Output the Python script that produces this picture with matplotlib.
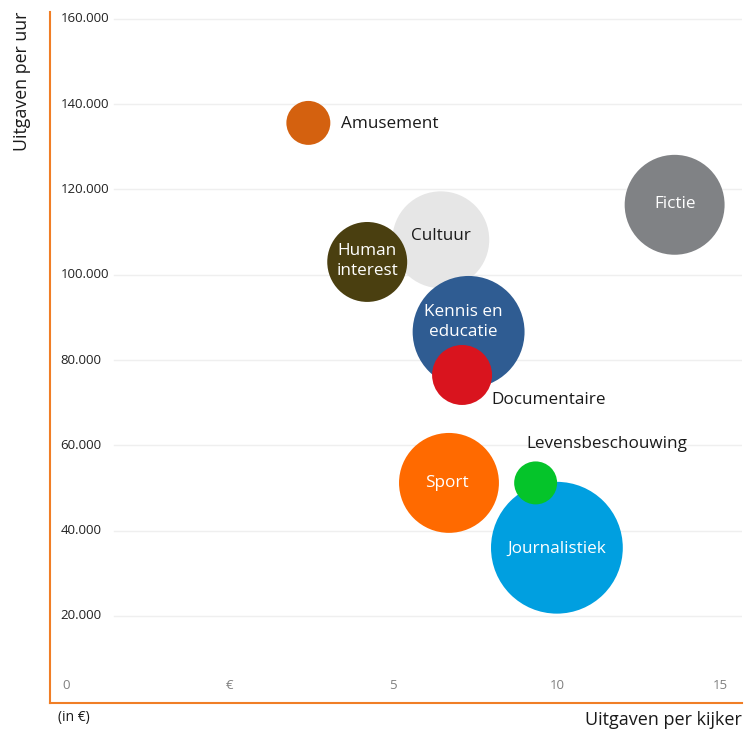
import matplotlib.pyplot as plt
import matplotlib.transforms as mtransforms

plt.rcParams['font.family'] = ['Open Sans', 'DejaVu Sans']

# genres, drawn in this order (later ones on top)
genres = ['Cultuur', 'Human\ninterest', 'Kennis en\neducatie', 'Documentaire',
          'Journalistiek', 'Levensbeschouwing', 'Sport', 'Amusement', 'Fictie']
per_kijker = [6.45, 4.2, 7.3, 7.1, 10.0, 9.35, 6.7, 2.4, 13.6]
per_uur = [108200, 103000, 86600, 76500, 36000, 51200, 51200, 135600, 116400]
omvang = [2350, 1600, 3136, 900, 4350, 462, 2500, 484, 2500]
kleuren = ['#E6E6E6', '#4A3F10', '#2F5C92', '#D9141E', '#009FE0',
           '#05C42A', '#FF6A00', '#D4610F', '#808285']

x_ticks = [-5, 0, 5, 10, 15]
x_labels = ['0', '€', '5', '10', '15']
y_ticks = [20000, 40000, 60000, 80000, 100000, 120000, 140000, 160000]

fig = plt.figure(figsize=(7.46, 7.30), dpi=100)
ax = fig.add_axes([50 / 746, 27 / 730, 692 / 746, 691 / 730])
ax.set_xlim(-5.5, 15.66)
ax.set_ylim(-400, 161600)

for y in y_ticks:
    ax.axhline(y, xmin=64 / 692, xmax=1, color='#EFEFEF', lw=1, zorder=0)
    ax.text(0.015, y, f'{y:,}'.replace(',', '.'), transform=ax.get_yaxis_transform(),
            ha='left', va='center', fontsize=9.5, color='#222222')

trans = ax.get_xaxis_transform()
for x, lab in zip(x_ticks, x_labels):
    ax.text(x, 0.025, lab, transform=trans, ha='center', va='center',
            fontsize=9.5, color='#808080')

sizes = [2.07 * v for v in omvang]
for i in range(len(genres)):
    ax.scatter(per_kijker[i], per_uur[i], s=sizes[i], color=kleuren[i],
               edgecolors='none', zorder=2 + i)

# labels: (dx, dy) in pixels, alignment, colour
label_style = {
    'Cultuur': (0, 4, 'center', '#1a1a1a'),
    'Human\ninterest': (0, 1, 'center', 'white'),
    'Kennis en\neducatie': (-5, 10, 'center', 'white'),
    'Documentaire': (29, -25, 'left', '#1a1a1a'),
    'Journalistiek': (0, -1, 'center', 'white'),
    'Levensbeschouwing': (-9, 39, 'left', '#1a1a1a'),
    'Sport': (-2, 0, 'center', 'white'),
    'Amusement': (33, -1, 'left', '#1a1a1a'),
    'Fictie': (0, 1, 'center', 'white'),
}
for i, g in enumerate(genres):
    dx, dy, ha, c = label_style[g]
    off = mtransforms.offset_copy(ax.transData, fig=fig, x=dx * 0.72, y=dy * 0.72, units='points')
    ax.text(per_kijker[i], per_uur[i], g, transform=off, ha=ha, va='center',
            fontsize=12.3, color=c, zorder=20, linespacing=1.3)

for side in ['top', 'right']:
    ax.spines[side].set_visible(False)
ax.spines['left'].set_color('#F07E26')
ax.spines['bottom'].set_color('#F07E26')
ax.spines['left'].set_linewidth(1.5)
ax.spines['bottom'].set_linewidth(1.5)
ax.set_xticks([])
ax.set_yticks([])

fig.text(22 / 746, 1 - 81 / 730, 'Uitgaven per uur', rotation=90, ha='center', va='center',
         fontsize=12.8, color='#1a1a1a')
fig.text(742 / 746, 1 - 720 / 730, 'Uitgaven per kijker', ha='right', va='center',
         fontsize=13, color='#1a1a1a')
fig.text(58 / 746, 1 - 718 / 730, '(in €)', ha='left', va='center',
         fontsize=10, color='#1a1a1a')

fig.savefig('out.png', dpi=100)
